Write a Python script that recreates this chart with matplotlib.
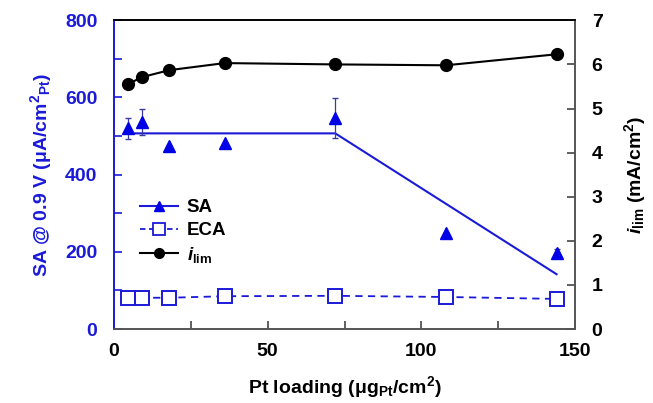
import matplotlib.pyplot as plt
from matplotlib.lines import Line2D
from matplotlib.ticker import MultipleLocator

plt.rcParams['font.family'] = ['Liberation Sans', 'DejaVu Sans']
plt.rcParams['font.weight'] = 'bold'
plt.rcParams['mathtext.fontset'] = 'custom'
plt.rcParams['mathtext.rm'] = 'Liberation Sans:bold'
plt.rcParams['mathtext.it'] = 'Liberation Sans:bold:italic'
plt.rcParams['mathtext.bf'] = 'Liberation Sans:bold'

BLUE = '#1a1ad8'

# Pt loading (ugPt/cm2)
loading = [4.5, 9, 18, 36, 72, 108, 144]
# specific activity (uA/cm2Pt) and error
sa = [520, 536, 474, 481, 546, 248, 197]
sa_err = [27, 34, 0, 0, 52, 0, 10]
# ECA values (left axis)
eca = [80, 81, 81, 85, 86, 83, 78]
# limiting current (mA/cm2)
ilim = [5.55, 5.71, 5.87, 6.03, 6.0, 5.98, 6.23]
# guide line for SA
fit_x = [4.5, 72, 144]
fit_y = [507, 507, 142]

fig = plt.figure(figsize=(6.53, 4.03), dpi=100)
ax = fig.add_axes([0.1746, 0.1836, 0.706, 0.766])
ax2 = ax.twinx()

ax.plot(fit_x, fit_y, color=BLUE, lw=1.5, zorder=2)
ax.errorbar(loading, sa, yerr=sa_err, fmt='^', color='#0000e6', ms=8.5,
            ecolor='#3a3aa0', elinewidth=0.9, capsize=2.5, zorder=3)
ax.plot(loading, eca, ls=(0, (4, 3)), color=BLUE, lw=1.3, marker='s', ms=9.5,
        mfc='white', mec=BLUE, mew=1.4, zorder=3)
ax2.plot(loading, ilim, color='black', lw=1.5, marker='o', ms=8.5, zorder=3)

ax.set_xlim(0, 150)
ax.set_ylim(0, 800)
ax2.set_ylim(0, 7)
ax.xaxis.set_major_locator(MultipleLocator(50))
ax.xaxis.set_minor_locator(MultipleLocator(25))
ax.yaxis.set_major_locator(MultipleLocator(200))
ax.yaxis.set_minor_locator(MultipleLocator(100))
ax2.yaxis.set_major_locator(MultipleLocator(1))

ax.tick_params(axis='both', which='both', direction='in', labelsize=14,
               length=6, width=1.2)
ax.tick_params(axis='x', which='both', color='#444444')
ax.tick_params(axis='x', which='major', pad=10)
ax.tick_params(axis='y', which='both', color=BLUE)
ax.tick_params(axis='y', which='major', pad=12, labelcolor=BLUE)
ax2.tick_params(axis='y', direction='in', length=6, width=1.2, color='#444444',
                labelsize=14, pad=12)

for a in (ax, ax2):
    a.spines['left'].set_color(BLUE)
    a.spines['bottom'].set_color('#555555')
    a.spines['right'].set_color('#555555')
    a.spines['top'].set_color('black')
    for s in a.spines.values():
        s.set_linewidth(1.2)

ax.set_xlabel(r'Pt loading (μg$_{\mathrm{Pt}}$/cm$^{2}$)', fontsize=14,
              fontweight='bold', labelpad=10)
ax.set_ylabel(r'SA @ 0.9 V (μA/cm$^{2}$$_{\mathrm{Pt}}$)', fontsize=14,
              fontweight='bold', color=BLUE, labelpad=8)
ax2.set_ylabel(r'$i_{\mathrm{lim}}$ (mA/cm$^{2}$)', fontsize=14,
               fontweight='bold', labelpad=14)

handles = [
    Line2D([], [], color=BLUE, lw=1.5, marker='^', ms=7, mfc='#0000e6', mec='#0000e6'),
    Line2D([], [], color=BLUE, lw=1.3, ls=(0, (3, 2)), marker='s', ms=8,
           mfc='white', mec=BLUE, mew=1.3),
    Line2D([], [], color='black', lw=1.5, marker='o', ms=7),
]
leg = ax2.legend(handles, ['SA', 'ECA', r'$i_{\mathrm{lim}}$'],
                 loc='upper left', bbox_to_anchor=(0.02, 0.475), frameon=False,
                 fontsize=13.5, handlelength=2.0, labelspacing=0.3,
                 handletextpad=0.5)

fig.savefig('out.png', dpi=100)
